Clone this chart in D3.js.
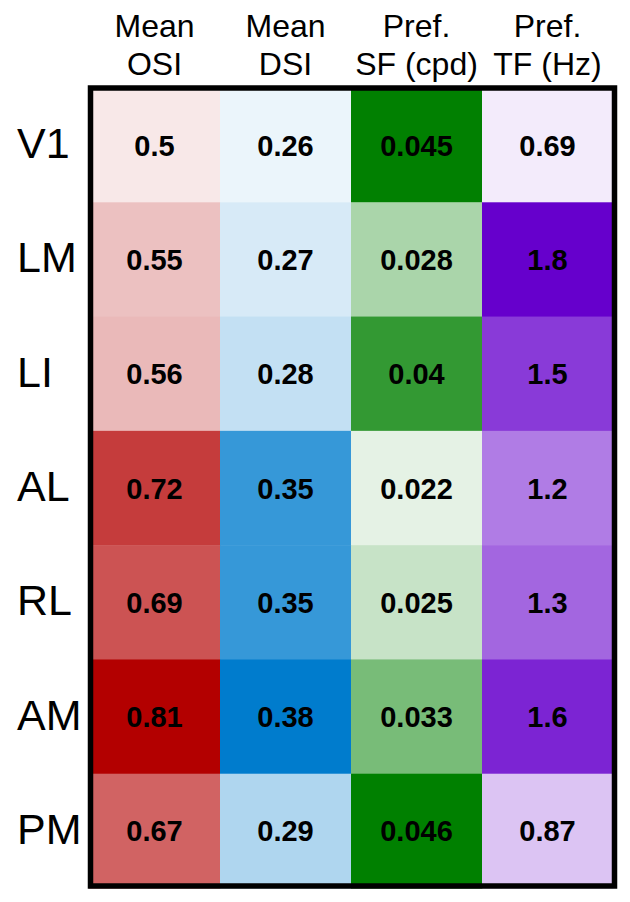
<!DOCTYPE html>
<html>
<head>
<meta charset="utf-8">
<script src="https://cdn.jsdelivr.net/npm/d3@7"></script>
<style>
  body { margin: 0; background: #fff; }
  text { font-family: "Liberation Sans", Arial, sans-serif; }
</style>
</head>
<body>
<div id="chart"></div>
<script>
// areas (rows) and measures (columns)
const areas = ["V1", "LM", "LI", "AL", "RL", "AM", "PM"];
const measures = ["osi", "dsi", "sf", "tf"];
const headerTop = ["Mean", "Mean", "Pref.", "Pref."];
const headerBottom = ["OSI", "DSI", "SF (cpd)", "TF (Hz)"];

// values per column, same order as areas
const osi = [0.5, 0.55, 0.56, 0.72, 0.69, 0.81, 0.67];
const dsi = [0.26, 0.27, 0.28, 0.35, 0.35, 0.38, 0.29];
const sf = [0.045, 0.028, 0.04, 0.022, 0.025, 0.033, 0.046];
const tf = [0.69, 1.8, 1.5, 1.2, 1.3, 1.6, 0.87];

const W = 630, H = 902;

const svg = d3.select("#chart")
    .append("svg")
    .attr("width", W)
    .attr("height", H);

const x = d3.scaleBand().domain(measures).range([89, 613]);
const y = d3.scaleBand().domain(areas).range([88, 888]);

//one white-to-colour scale per column
const colour = {
    osi: d3.scaleLinear().domain([0.47, 0.797]).range(["#ffffff", "#b30000"]).clamp(true),
    dsi: d3.scaleLinear().domain([0.25, 0.377]).range(["#ffffff", "#007ccd"]).clamp(true),
    sf: d3.scaleLinear().domain([0.0194, 0.0451]).range(["#ffffff", "#008000"]).clamp(true),
    tf: d3.scaleLinear().domain([0.60, 1.764]).range(["#ffffff", "#6600cc"]).clamp(true)
};

const cols = { osi: osi, dsi: dsi, sf: sf, tf: tf };
const cells = [];
measures.forEach(m => {
    cols[m].forEach((v, i) => cells.push({ m: m, area: areas[i], v: v }));
});

const cell = svg.append("g")
    .selectAll("g")
    .data(cells)
    .enter()
    .append("g");

cell.append("rect")
    .attr("x", d => x(d.m))
    .attr("y", d => y(d.area))
    .attr("width", x.bandwidth() + 0.5)
    .attr("height", y.bandwidth() + 0.5)
    .attr("fill", d => colour[d.m](d.v));

cell.append("text")
    .attr("x", d => x(d.m) + x.bandwidth() / 2)
    .attr("y", d => y(d.area) + y.bandwidth() / 2 + 10.5)
    .attr("text-anchor", "middle")
    .style("font-size", "29px")
    .style("font-weight", "bold")
    .text(d => d.v);

//frame round the grid
svg.append("rect")
    .attr("x", 90.5)
    .attr("y", 88)
    .attr("width", 524)
    .attr("height", 798)
    .attr("fill", "none")
    .attr("stroke", "#000")
    .attr("stroke-width", 5.5);

//row labels
svg.append("g")
    .selectAll("text")
    .data(areas)
    .enter()
    .append("text")
    .attr("x", 17)
    .attr("y", d => y(d) + y.bandwidth() / 2 + 13)
    .style("font-size", "43px")
    .text(d => d);

//column headers, two lines
const head = svg.append("g")
    .selectAll("g")
    .data(measures)
    .enter()
    .append("g");

head.append("text")
    .attr("x", d => x(d) + x.bandwidth() / 2)
    .attr("y", 37)
    .attr("text-anchor", "middle")
    .style("font-size", "32px")
    .text((d, i) => headerTop[i]);

head.append("text")
    .attr("x", d => x(d) + x.bandwidth() / 2)
    .attr("y", 75)
    .attr("text-anchor", "middle")
    .style("font-size", "32px")
    .text((d, i) => headerBottom[i]);
</script>
</body>
</html>
